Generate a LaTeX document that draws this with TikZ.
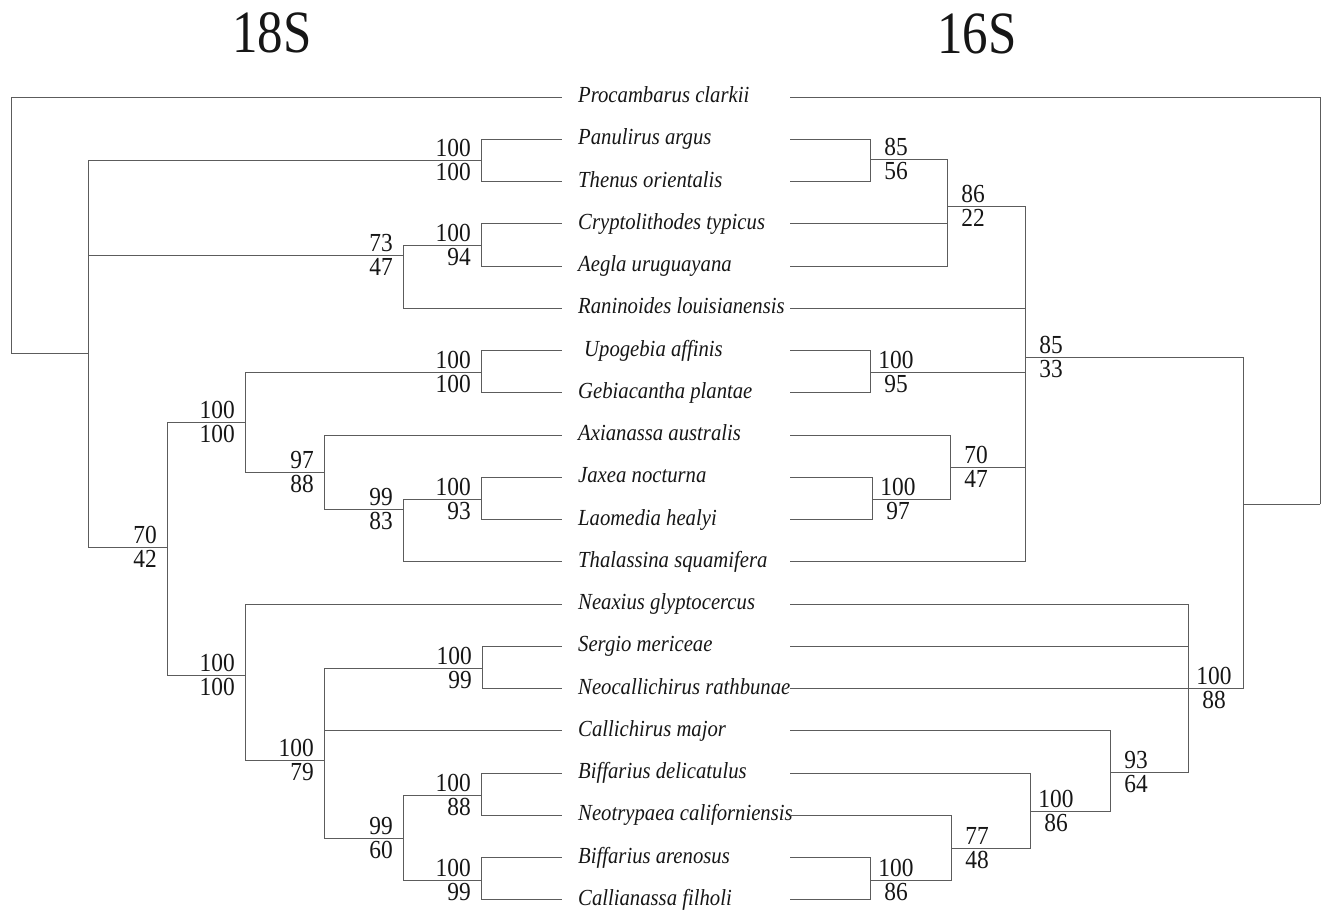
\documentclass[tikz,border=0pt]{standalone}
\usepackage{fontspec}
\setmainfont{Liberation Serif}
\newfontfamily\policeArbre[FakeStretch=0.9]{Liberation Serif}
\newfontfamily\policeTitre[FakeStretch=0.85]{Liberation Serif}
\usepackage{xcolor}
\definecolor{arbreTrait}{HTML}{5C5C5C}
\definecolor{arbreTexte}{HTML}{161616}
\usepackage{tikz}
\tikzset{
  %% ── Branches ─────────────────────────────────────────────────────────
  %% One weight for every branch: the two trees are read by topology, not
  %% by line weight, so nothing is emphasised.
  branche/.style    = {draw=arbreTrait, line width=1pt},
  %%
  %% ── Text ─────────────────────────────────────────────────────────────
  %% Taxa share one row between the two trees; the box height is fixed so
  %% that every branch meets its name at the same height.
  taxon/.style      = {anchor=west, inner sep=0pt, text height=16pt,
                       text depth=5pt, text=arbreTexte,
                       font=\policeArbre\itshape\fontsize{23}{26}\selectfont},
  soutien/.style    = {inner xsep=0pt, inner ysep=3pt, text=arbreTexte,
                       font=\policeArbre\fontsize{26}{28}\selectfont},
  supG/.style       = {soutien, anchor=south east, xshift=-10pt},
  infG/.style       = {soutien, anchor=north east, xshift=-10pt},
  supD/.style       = {soutien, anchor=south, xshift=26pt},
  infD/.style       = {soutien, anchor=north, xshift=26pt},
  titreArbre/.style = {text=arbreTexte,
                       font=\policeTitre\fontsize{60}{60}\selectfont},
}

\begin{document}
\begin{tikzpicture}[x=1pt, y=-1pt]

\useasboundingbox (0,0) rectangle (1321,910);

\node[titreArbre] (titre18) at (272, 33) {18S};
\node[titreArbre] (titre16) at (977, 34) {16S};

\node[taxon] (t0)  at (578, 97.0)  {Procambarus clarkii};
\node[taxon] (t1)  at (578, 139.3) {Panulirus argus};
\node[taxon] (t2)  at (578, 181.5) {Thenus orientalis};
\node[taxon] (t3)  at (578, 223.8) {Cryptolithodes typicus};
\node[taxon] (t4)  at (578, 266.0) {Aegla uruguayana};
\node[taxon] (t5)  at (578, 308.3) {Raninoides louisianensis};
\node[taxon] (t6)  at (584, 350.6) {Upogebia affinis};
\node[taxon] (t7)  at (578, 392.8) {Gebiacantha plantae};
\node[taxon] (t8)  at (578, 435.1) {Axianassa australis};
\node[taxon] (t9)  at (578, 477.3) {Jaxea nocturna};
\node[taxon] (t10) at (578, 519.6) {Laomedia healyi};
\node[taxon] (t11) at (578, 561.9) {Thalassina squamifera};
\node[taxon] (t12) at (578, 604.1) {Neaxius glyptocercus};
\node[taxon] (t13) at (578, 646.4) {Sergio mericeae};
\node[taxon] (t14) at (578, 688.6) {Neocallichirus rathbunae};
\node[taxon] (t15) at (578, 730.9) {Callichirus major};
\node[taxon] (t16) at (578, 773.2) {Biffarius delicatulus};
\node[taxon] (t17) at (578, 815.4) {Neotrypaea californiensis};
\node[taxon] (t18) at (578, 857.7) {Biffarius arenosus};
\node[taxon] (t19) at (578, 899.9) {Callianassa filholi};

\coordinate (colG) at (562, 0);
\coordinate (colD) at (790, 0);

\coordinate (gRacine) at (11, 353);
\coordinate (gBase) at (88, 353);
\coordinate (gPan) at (481, 160);
\coordinate (g73) at (403, 255);
\coordinate (gCry) at (481, 245);
\coordinate (g70) at (167, 547);
\coordinate (gHaut) at (245, 422);
\coordinate (gUpo) at (481, 372);
\coordinate (g97) at (324, 472);
\coordinate (g99) at (403, 509);
\coordinate (gJax) at (481, 499);
\coordinate (gBas) at (245, 675);
\coordinate (gCal) at (324, 760);
\coordinate (gSer) at (482, 668);
\coordinate (g99b) at (403, 838);
\coordinate (gBif) at (481, 795);
\coordinate (gAre) at (481, 880);

\draw[branche] (gRacine) |- (t0 -| colG) (gRacine) -- (gBase);
\draw[branche] (gBase) |- (gPan) (gBase) |- (g73) (gBase) |- (g70);
\draw[branche] (gPan) |- (t1 -| colG) (gPan) |- (t2 -| colG);
\draw[branche] (g73) |- (gCry) (g73) |- (t5 -| colG);
\draw[branche] (gCry) |- (t3 -| colG) (gCry) |- (t4 -| colG);
\draw[branche] (g70) |- (gHaut) (g70) |- (gBas);
\draw[branche] (gHaut) |- (gUpo) (gHaut) |- (g97);
\draw[branche] (gUpo) |- (t6 -| colG) (gUpo) |- (t7 -| colG);
\draw[branche] (g97) |- (t8 -| colG) (g97) |- (g99);
\draw[branche] (g99) |- (gJax) (g99) |- (t11 -| colG);
\draw[branche] (gJax) |- (t9 -| colG) (gJax) |- (t10 -| colG);
\draw[branche] (gBas) |- (t12 -| colG) (gBas) |- (gCal);
\draw[branche] (gCal) |- (gSer) (gCal) |- (t15 -| colG) (gCal) |- (g99b);
\draw[branche] (gSer) |- (t13 -| colG) (gSer) |- (t14 -| colG);
\draw[branche] (g99b) |- (gBif) (g99b) |- (gAre);
\draw[branche] (gBif) |- (t16 -| colG) (gBif) |- (t17 -| colG);
\draw[branche] (gAre) |- (t18 -| colG) (gAre) |- (t19 -| colG);

\node[supG] (sPanH) at (gPan) {100};  \node[infG] (sPanB) at (gPan) {100};
\node[supG] (sCryH) at (gCry) {100};  \node[infG] (sCryB) at (gCry) {94};
\node[supG] (s73H) at (g73) {73};     \node[infG] (s73B) at (g73) {47};
\node[supG] (sUpoH) at (gUpo) {100};  \node[infG] (sUpoB) at (gUpo) {100};
\node[supG] (sHautH) at (gHaut) {100}; \node[infG] (sHautB) at (gHaut) {100};
\node[supG] (s97H) at (g97) {97};     \node[infG] (s97B) at (g97) {88};
\node[supG] (s99H) at (g99) {99};     \node[infG] (s99B) at (g99) {83};
\node[supG] (sJaxH) at (gJax) {100};  \node[infG] (sJaxB) at (gJax) {93};
\node[supG] (s70H) at (g70) {70};     \node[infG] (s70B) at (g70) {42};
\node[supG] (sBasH) at (gBas) {100};  \node[infG] (sBasB) at (gBas) {100};
\node[supG] (sSerH) at (gSer) {100};  \node[infG] (sSerB) at (gSer) {99};
\node[supG] (sCalH) at (gCal) {100};  \node[infG] (sCalB) at (gCal) {79};
\node[supG] (sBifH) at (gBif) {100};  \node[infG] (sBifB) at (gBif) {88};
\node[supG] (s99bH) at (g99b) {99};   \node[infG] (s99bB) at (g99b) {60};
\node[supG] (sAreH) at (gAre) {100};  \node[infG] (sAreB) at (gAre) {99};

\coordinate (dRacine) at (1320, 504);
\coordinate (dA) at (1243, 504);
\coordinate (dB) at (1025, 357);
\coordinate (dC) at (1188, 688);
\coordinate (d86) at (947, 206);
\coordinate (d85) at (870, 159);
\coordinate (dUpo) at (870, 372);
\coordinate (d70) at (950, 467);
\coordinate (dJax) at (872, 499);
\coordinate (d93) at (1110, 772);
\coordinate (d100) at (1030, 811);
\coordinate (d77) at (951, 848);
\coordinate (dAre) at (870, 880);

\draw[branche] (dRacine) |- (t0 -| colD) (dRacine) -- (dA);
\draw[branche] (dA) |- (dB) (dA) |- (dC);
\draw[branche] (dB) |- (d86) (dB) |- (t5 -| colD) (dB) |- (dUpo)
               (dB) |- (d70) (dB) |- (t11 -| colD);
\draw[branche] (d86) |- (d85) (d86) |- (t3 -| colD) (d86) |- (t4 -| colD);
\draw[branche] (d85) |- (t1 -| colD) (d85) |- (t2 -| colD);
\draw[branche] (dUpo) |- (t6 -| colD) (dUpo) |- (t7 -| colD);
\draw[branche] (d70) |- (t8 -| colD) (d70) |- (dJax);
\draw[branche] (dJax) |- (t9 -| colD) (dJax) |- (t10 -| colD);
\draw[branche] (dC) |- (t12 -| colD) (dC) |- (t13 -| colD)
               (dC) |- (t14 -| colD) (dC) |- (d93);
\draw[branche] (d93) |- (t15 -| colD) (d93) |- (d100);
\draw[branche] (d100) |- (t16 -| colD) (d100) |- (d77);
\draw[branche] (d77) |- (t17 -| colD) (d77) |- (dAre);
\draw[branche] (dAre) |- (t18 -| colD) (dAre) |- (t19 -| colD);

\node[supD] (s85H) at (d85) {85};     \node[infD] (s85B) at (d85) {56};
\node[supD] (s86H) at (d86) {86};     \node[infD] (s86B) at (d86) {22};
\node[supD] (sdUpoH) at (dUpo) {100}; \node[infD] (sdUpoB) at (dUpo) {95};
\node[supD] (sdBH) at (dB) {85};      \node[infD] (sdBB) at (dB) {33};
\node[supD] (sd70H) at (d70) {70};    \node[infD] (sd70B) at (d70) {47};
\node[supD] (sdJaxH) at (dJax) {100}; \node[infD] (sdJaxB) at (dJax) {97};
\node[supD] (sdCH) at (dC) {100};     \node[infD] (sdCB) at (dC) {88};
\node[supD] (s93H) at (d93) {93};     \node[infD] (s93B) at (d93) {64};
\node[supD] (sd100H) at (d100) {100}; \node[infD] (sd100B) at (d100) {86};
\node[supD] (s77H) at (d77) {77};     \node[infD] (s77B) at (d77) {48};
\node[supD] (sdAreH) at (dAre) {100}; \node[infD] (sdAreB) at (dAre) {86};

\end{tikzpicture}
\end{document}
